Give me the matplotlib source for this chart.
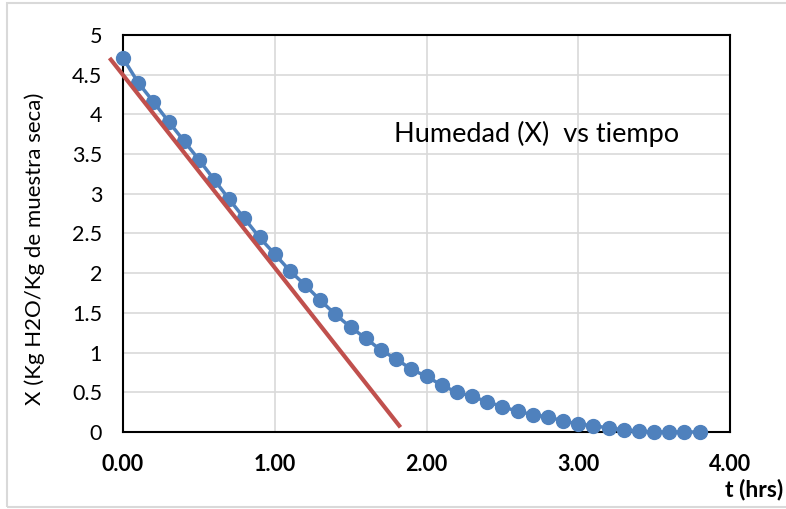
import matplotlib
matplotlib.use('Agg')
import matplotlib.pyplot as plt
from matplotlib.patches import Rectangle

plt.rcParams['font.family'] = ['Lato', 'DejaVu Sans']

# drying data: time (hrs) and moisture X (kg H2O / kg dry sample)
t_hrs = [0.0, 0.1, 0.2, 0.3, 0.4, 0.5, 0.6, 0.7, 0.8, 0.9,
         1.0, 1.1, 1.2, 1.3, 1.4, 1.5, 1.6, 1.7, 1.8, 1.9,
         2.0, 2.1, 2.2, 2.3, 2.4, 2.5, 2.6, 2.7, 2.8, 2.9,
         3.0, 3.1, 3.2, 3.3, 3.4, 3.5, 3.6, 3.7, 3.8]
humedad = [4.71, 4.40, 4.16, 3.91, 3.67, 3.43, 3.18, 2.93, 2.69, 2.45,
           2.24, 2.03, 1.85, 1.66, 1.48, 1.32, 1.18, 1.03, 0.92, 0.79,
           0.70, 0.59, 0.50, 0.45, 0.38, 0.32, 0.26, 0.22, 0.19, 0.14,
           0.10, 0.08, 0.05, 0.03, 0.01, 0.0, 0.0, 0.0, 0.0]

# linear trend (constant rate period)
trend_t = [-0.08, 1.82]
trend_x = [4.69, 0.08]

x_ticks = [0, 1, 2, 3, 4]
x_labels = ['0.00', '1.00', '2.00', '3.00', '4.00']
y_ticks = [0, 0.5, 1, 1.5, 2, 2.5, 3, 3.5, 4, 4.5, 5]
y_labels = ['0', '0.5', '1', '1.5', '2', '2.5', '3', '3.5', '4', '4.5', '5']

fig = plt.figure(figsize=(7.86, 5.09), dpi=100)
fig.patches.append(Rectangle((7/786, 2/509), 1.0, 504/509, transform=fig.transFigure,
                             fill=False, edgecolor='#d9d9d9', linewidth=1.5))
ax = fig.add_axes([123/786, 77/509, 607/786, 397/509])

ax.plot(t_hrs, humedad, color='#4F81BD', linewidth=2.5, marker='o',
        markersize=10, zorder=3, clip_on=False)
ax.plot(trend_t, trend_x, color='#C0504D', linewidth=3, zorder=4, clip_on=False)

ax.set_xlim(0, 4)
ax.set_ylim(0, 5)
ax.set_xticks(x_ticks)
ax.set_xticklabels(x_labels, fontweight='bold', fontsize=15.5)
ax.set_yticks(y_ticks)
ax.set_yticklabels(y_labels, fontsize=15.5)
ax.tick_params(axis='both', length=0)
ax.tick_params(axis='y', pad=15)
ax.tick_params(axis='x', pad=16)
ax.grid(True, color='#d9d9d9', linewidth=1.2)
ax.set_axisbelow(True)
for s in ax.spines.values():
    s.set_linewidth(1.5)
    s.set_color('black')

ax.set_ylabel('X (Kg H2O/Kg de muestra seca)', fontsize=16)
ax.yaxis.set_label_coords(-0.128, 0.461)
fig.text(725/786, 1 - 489/509, 't (hrs)', fontsize=16.5, fontweight='bold',
         ha='left', va='center')
ax.text(0.446, 0.752, 'Humedad (X)  vs tiempo', fontsize=19.5,
        transform=ax.transAxes, ha='left', va='center')

fig.savefig('out.png', dpi=100)
